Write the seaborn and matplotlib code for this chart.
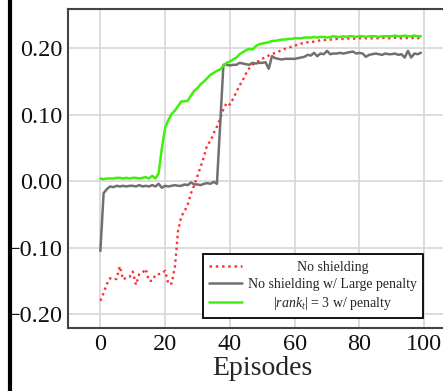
import numpy as np
import pandas as pd
import matplotlib
matplotlib.use("Agg")
import matplotlib.pyplot as plt
from matplotlib.lines import Line2D
import seaborn as sns

episodes = list(range(100))

no_shielding = [
    -0.180, -0.168, -0.155, -0.146, -0.148, -0.147, -0.128, -0.148, -0.145, -0.144,
    -0.136, -0.156, -0.140, -0.138, -0.132, -0.150, -0.150, -0.141, -0.140, -0.138,
    -0.135, -0.155, -0.154, -0.130, -0.075, -0.053, -0.045, -0.035, -0.018, -0.006,
    0.008, 0.022, 0.037, 0.055, 0.060, 0.072, 0.082, 0.094, 0.108, 0.118,
    0.115, 0.124, 0.134, 0.144, 0.152, 0.162, 0.170, 0.175, 0.179, 0.181,
    0.184, 0.187, 0.189, 0.191, 0.193, 0.195, 0.197, 0.199, 0.201, 0.202,
    0.204, 0.205, 0.207, 0.208, 0.209, 0.209, 0.210, 0.211, 0.212, 0.212,
    0.213, 0.213, 0.213, 0.214, 0.214, 0.214, 0.214, 0.215, 0.214, 0.215,
    0.215, 0.215, 0.215, 0.214, 0.215, 0.215, 0.215, 0.215, 0.216, 0.215,
    0.215, 0.216, 0.215, 0.215, 0.216, 0.215, 0.215, 0.216, 0.215, 0.216]

large_penalty = [
    -0.105, -0.018, -0.012, -0.008, -0.009, -0.007, -0.008, -0.007, -0.008, -0.007,
    -0.007, -0.008, -0.006, -0.008, -0.007, -0.008, -0.006, -0.008, -0.004, -0.010,
    -0.007, -0.008, -0.007, -0.006, -0.007, -0.007, -0.005, -0.006, -0.002, -0.005,
    -0.005, -0.006, -0.004, -0.003, -0.004, -0.001, -0.004, 0.085, 0.175, 0.175,
    0.174, 0.175, 0.175, 0.178, 0.177, 0.176, 0.175, 0.178, 0.177, 0.178,
    0.178, 0.179, 0.169, 0.188, 0.185, 0.184, 0.183, 0.184, 0.184, 0.184,
    0.184, 0.185, 0.186, 0.187, 0.190, 0.189, 0.193, 0.188, 0.192, 0.191,
    0.196, 0.191, 0.192, 0.192, 0.193, 0.192, 0.193, 0.194, 0.195, 0.192,
    0.193, 0.192, 0.187, 0.190, 0.191, 0.192, 0.191, 0.190, 0.192, 0.191,
    0.191, 0.192, 0.190, 0.191, 0.186, 0.196, 0.186, 0.192, 0.191, 0.193]

rank3_penalty = [
    0.004, 0.003, 0.004, 0.004, 0.004, 0.005, 0.005, 0.004, 0.005, 0.004,
    0.005, 0.005, 0.004, 0.005, 0.006, 0.004, 0.008, 0.004, 0.012, 0.050,
    0.080, 0.092, 0.101, 0.106, 0.113, 0.120, 0.120, 0.121, 0.129, 0.136,
    0.140, 0.146, 0.150, 0.155, 0.160, 0.163, 0.166, 0.168, 0.174, 0.178,
    0.180, 0.183, 0.186, 0.191, 0.194, 0.197, 0.199, 0.198, 0.203, 0.206,
    0.207, 0.208, 0.209, 0.211, 0.211, 0.212, 0.213, 0.213, 0.214, 0.214,
    0.215, 0.215, 0.215, 0.216, 0.216, 0.216, 0.217, 0.216, 0.217, 0.217,
    0.216, 0.217, 0.218, 0.217, 0.217, 0.218, 0.217, 0.218, 0.218, 0.217,
    0.218, 0.218, 0.217, 0.218, 0.218, 0.218, 0.217, 0.218, 0.218, 0.218,
    0.218, 0.219, 0.218, 0.218, 0.219, 0.218, 0.218, 0.219, 0.218, 0.218]

labels = ["No shielding", "No shielding w/ Large penalty",
          r"$|rank_t|$ = 3 w/ penalty"]
x_ticks = [0, 20, 40, 60, 80, 100]
y_ticks = [-0.20, -0.10, 0.00, 0.10, 0.20]
x_label = "Episodes"

sns.set_theme(style="whitegrid")
plt.rcParams["font.family"] = ["Liberation Serif", "DejaVu Serif"]
plt.rcParams["mathtext.fontset"] = "custom"
plt.rcParams["mathtext.rm"] = "Liberation Serif"
plt.rcParams["mathtext.it"] = "Liberation Serif:italic"
plt.rcParams["axes.unicode_minus"] = True

fig = plt.figure(figsize=(4.43, 3.91), dpi=100)
ax = fig.add_axes([0.1535, 0.161, 0.877, 0.816])

sns.lineplot(x=episodes, y=no_shielding, ax=ax, color="#ff3030", lw=1.7,
             label=labels[0])
ax.lines[-1].set_linestyle((0, (1, 1.5)))
sns.lineplot(x=episodes, y=large_penalty, ax=ax, color="#707070", lw=1.8,
             label=labels[1])
sns.lineplot(x=episodes, y=rank3_penalty, ax=ax, color="#3ff00c", lw=1.8,
             label=labels[2])

ax.set_xlim(-10, 110)
ax.set_ylim(-0.221, 0.259)
ax.set_xticks(x_ticks)
ax.set_yticks(y_ticks)
ax.set_yticklabels([f"{v:.2f}".replace("-", "\u2212") for v in y_ticks])
ax.set_xlabel(x_label, fontsize=20, labelpad=1)
ax.set_ylabel("")
ax.grid(True, color="#d6d6d6", lw=1.2)
ax.tick_params(axis="both", labelsize=17.5, direction="in", length=5,
               color="#555555", width=1.0, pad=4, colors="#111111")
for s in ax.spines.values():
    s.set_color("#444444")
    s.set_linewidth(1.5)
    s.set_visible(True)

leg = ax.legend(loc="lower left", bbox_to_anchor=(0.347, 0.031),
                borderaxespad=0, fontsize=10, handlelength=2.4,
                handletextpad=0.4, borderpad=0.45, labelspacing=0.3,
                fancybox=False, framealpha=1, edgecolor="black")
leg.get_frame().set_linewidth(1.3)
for h in leg.get_lines():
    h.set_linewidth(1.8)
leg.get_lines()[0].set_linestyle((0, (1, 1.5)))

# center legend texts on the widest one
fig.canvas.draw()
r = fig.canvas.get_renderer()
texts = leg.get_texts()
exts = [t.get_window_extent(r) for t in texts]
cx = max(exts, key=lambda b: b.width)
center = (cx.x0 + cx.x1) / 2
for t, b in zip(texts, exts):
    dx = center - (b.x0 + b.x1) / 2
    x, y = t.get_position()
    t.set_position((x + dx, y))

# black vertical bar at the left edge (crop artifact)
fig.add_artist(Line2D([0.0226, 0.0226], [0, 1], transform=fig.transFigure,
                      color="black", lw=3))

fig.savefig("out.png", dpi=100)
